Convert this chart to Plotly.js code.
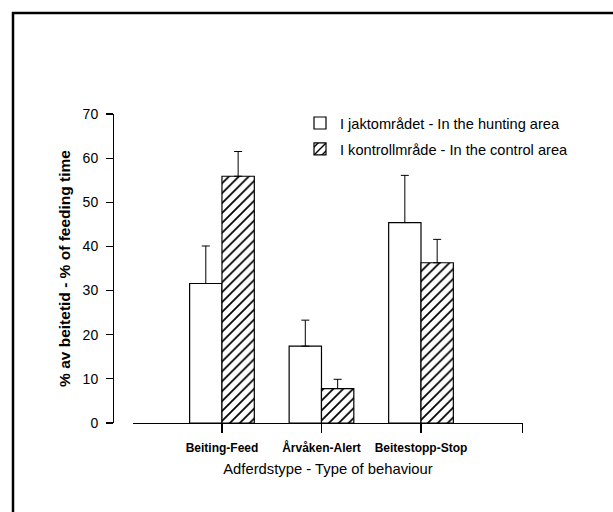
<!DOCTYPE html>
<html>
<head>
<meta charset="utf-8">
<script src="https://cdn.plot.ly/plotly-3.0.1.min.js"></script>
<style>
  html, body { margin: 0; padding: 0; background: #fff; }
  #chart { width: 613px; height: 512px; }
</style>
</head>
<body>
<div id="chart"></div>
<script>
// ---- data ----
const categories = ['Beiting-Feed', 'Årvåken-Alert', 'Beitestopp-Stop'];
const seriesNames = ['I jaktområdet - In the hunting area', 'I kontrollmråde - In the control area'];
const huntingValues = [31.6, 17.4, 45.4];
const huntingErrorTop = [40.1, 23.3, 56.1];
const controlValues = [55.9, 7.8, 36.3];
const controlErrorTop = [61.5, 9.9, 41.6];
const yTickValues = [0, 10, 20, 30, 40, 50, 60, 70];
const xTitle = 'Adferdstype - Type of behaviour';
const yTitle = '% av beitetid - % of feeding time';

const xPos = categories.map((c, i) => i);
const font = 'Liberation Sans, Arial, Helvetica, sans-serif';

function plusErr(tops, vals) { return tops.map((t, i) => t - vals[i]); }

const errStyle = { color: '#000', thickness: 1, width: 4 };

const traces = [
  {
    type: 'bar', name: seriesNames[0], x: xPos, y: huntingValues,
    legendgroup: 'a',
    marker: { color: '#fff', line: { color: '#000', width: 1.2 } },
    error_y: Object.assign({ type: 'data', symmetric: false,
      array: plusErr(huntingErrorTop, huntingValues),
      arrayminus: huntingValues.map(() => 0) }, errStyle),
    hoverinfo: 'skip'
  },
  {
    type: 'bar', name: seriesNames[1], x: xPos, y: controlValues,
    legendgroup: 'b',
    marker: { color: '#fff', line: { color: '#000', width: 1.2 },
      pattern: { shape: '/', fgcolor: '#000', bgcolor: '#fff', size: 7, solidity: 0.25 } },
    error_y: Object.assign({ type: 'data', symmetric: false,
      array: plusErr(controlErrorTop, controlValues),
      arrayminus: controlValues.map(() => 0) }, errStyle),
    hoverinfo: 'skip'
  }
];

const L = 133, R = 523, T = 114, B = 423;
function px2paperX(p) { return (p - L) / (R - L); }
function px2paperY(p) { return (B - p) / (B - T); }

const layout = {
  width: 613, height: 512,
  margin: { l: L, r: 613 - R, t: T, b: 512 - B, pad: 0 },
  paper_bgcolor: '#fff', plot_bgcolor: '#fff',
  font: { family: font, color: '#000', size: 13 },
  barmode: 'group', bargap: 0.35, bargroupgap: 0,
  showlegend: true,
  legend: {
    x: px2paperX(300), y: px2paperY(107), xanchor: 'left', yanchor: 'top',
    bgcolor: 'rgba(0,0,0,0)', borderwidth: 0,
    font: { family: font, size: 14.6, color: '#000' },
    traceorder: 'grouped', tracegroupgap: 4
  },
  xaxis: {
    range: [-0.894, 3.025],
    tickvals: xPos.concat([3.02]),
    ticktext: categories.concat(['']),
    ticks: 'outside', ticklen: 9, tickwidth: 1.2, tickcolor: '#000',
    showline: true, linecolor: '#000', linewidth: 1.2,
    showgrid: false, zeroline: false,
    ticklabelstandoff: 4,
    tickfont: { family: font, size: 12, color: '#000', weight: 'bold' },
    title: { text: xTitle, font: { family: font, size: 14.8, color: '#000' }, standoff: 10 },
    fixedrange: true
  },
  yaxis: {
    range: [0, 70],
    tickvals: yTickValues,
    anchor: 'free', position: 0, shift: -20,
    ticks: 'outside', ticklen: 7, tickwidth: 1.2, tickcolor: '#000',
    showline: true, linecolor: '#000', linewidth: 1.2,
    showgrid: false, zeroline: false,
    ticklabelstandoff: 5,
    tickfont: { family: font, size: 14, color: '#000' },
    title: { text: yTitle, font: { family: font, size: 15.5, color: '#000', weight: 'bold' }, standoff: 7 },
    fixedrange: true
  },
  shapes: [
    { type: 'line', xref: 'paper', yref: 'paper', x0: px2paperX(12), x1: px2paperX(613), y0: px2paperY(13), y1: px2paperY(13), line: { color: '#000', width: 2.5 } },
    { type: 'line', xref: 'paper', yref: 'paper', x0: px2paperX(13), x1: px2paperX(13), y0: px2paperY(12), y1: px2paperY(512), line: { color: '#000', width: 2.5 } }
  ]
};

Plotly.newPlot('chart', traces, layout, { displayModeBar: false, staticPlot: true });
</script>
</body>
</html>
